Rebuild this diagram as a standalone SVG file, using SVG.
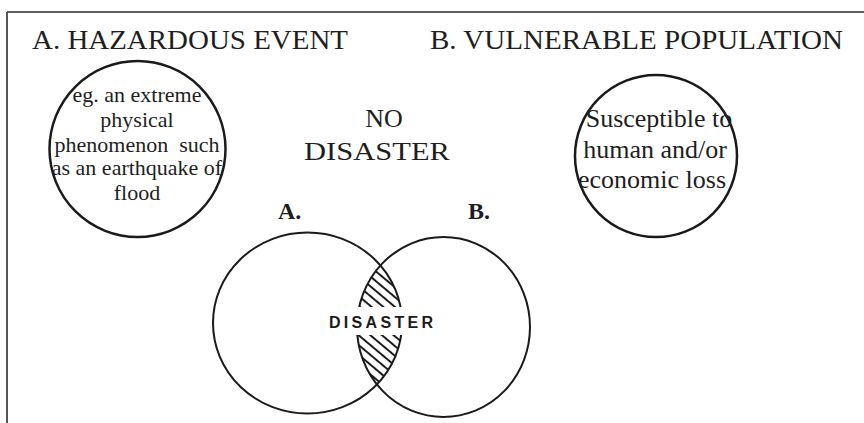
<svg xmlns="http://www.w3.org/2000/svg" width="864" height="423" viewBox="0 0 864 423">
  <style>
    .serif { font-family: "Liberation Serif", "Times New Roman", serif; fill: #1e1e1e; }
    .head { font-size: 27px; }
    .body { font-size: 22px; text-anchor: middle; }
    .big { font-size: 26px; text-anchor: middle; }
    .tag { font-size: 24px; font-weight: bold; }
    .ring { fill: none; stroke: #1a1a1a; stroke-width: 2.5; }
    .venn { fill: none; stroke: #1a1a1a; stroke-width: 2; }
    .label { font-family: "Liberation Sans", Arial, sans-serif; font-weight: bold; font-size: 16px; fill: #1a1a1a; }
  </style>
  <defs>
    <pattern id="hatch" patternUnits="userSpaceOnUse" width="7.5" height="7.5" patternTransform="rotate(40)">
      <line x1="0" y1="3.75" x2="7.5" y2="3.75" stroke="#1a1a1a" stroke-width="2"/>
    </pattern>
    <clipPath id="clipA">
      <ellipse cx="307.5" cy="323" rx="94.5" ry="90.5"/>
    </clipPath>
    <clipPath id="clipB">
      <ellipse cx="443.5" cy="327" rx="86.5" ry="90"/>
    </clipPath>
  </defs>

  <rect width="864" height="423" fill="#ffffff"/>

  <!-- frame: top and left rules -->
  <g id="frame" fill="none" stroke="#2a2a2a" stroke-width="1.6">
    <line x1="7" y1="12" x2="864" y2="12"/>
    <line x1="7" y1="12" x2="7" y2="423"/>
  </g>

  <!-- column headings -->
  <g id="heading-a">
    <text class="serif head" x="32" y="49" textLength="316" lengthAdjust="spacingAndGlyphs">A. HAZARDOUS EVENT</text>
  </g>
  <g id="heading-b">
    <text class="serif head" x="430" y="49" textLength="413" lengthAdjust="spacingAndGlyphs">B. VULNERABLE POPULATION</text>
  </g>

  <!-- hazard circle -->
  <g id="hazard">
    <circle class="ring" cx="137.5" cy="149" r="88"/>
    <text class="serif body" x="137" y="102">eg. an extreme</text>
    <text class="serif body" x="137" y="127">physical</text>
    <text class="serif body" x="137" y="152" xml:space="preserve">phenomenon  such</text>
    <text class="serif body" x="137" y="175">as an earthquake of</text>
    <text class="serif body" x="137" y="200">flood</text>
  </g>

  <!-- vulnerable population circle -->
  <g id="population">
    <circle class="ring" cx="656" cy="156" r="81"/>
    <text class="serif big" x="659" y="127">Susceptible to</text>
    <text class="serif big" x="655" y="158">human and/or</text>
    <text class="serif big" x="652" y="188">economic loss</text>
  </g>

  <!-- no-disaster caption -->
  <g id="no-disaster">
    <text class="serif big" x="384" y="127">NO</text>
    <text class="serif big" x="377" y="160" textLength="146" lengthAdjust="spacingAndGlyphs">DISASTER</text>
  </g>

  <!-- venn pair -->
  <g id="venn-a">
    <text class="serif tag" x="278" y="219">A.</text>
    <ellipse class="venn" cx="307.5" cy="323" rx="94.5" ry="90.5"/>
  </g>
  <g id="venn-b">
    <text class="serif tag" x="468" y="219">B.</text>
    <ellipse class="venn" cx="443.5" cy="327" rx="86.5" ry="90"/>
  </g>

  <!-- overlap: hatched lens with label -->
  <g id="overlap">
    <g clip-path="url(#clipA)">
      <rect x="340" y="240" width="80" height="170" fill="url(#hatch)" clip-path="url(#clipB)"/>
    </g>
    <rect x="325" y="307" width="112" height="28" fill="#ffffff"/>
    <text class="label" x="329" y="328" textLength="104" lengthAdjust="spacing">DISASTER</text>
  </g>
</svg>
